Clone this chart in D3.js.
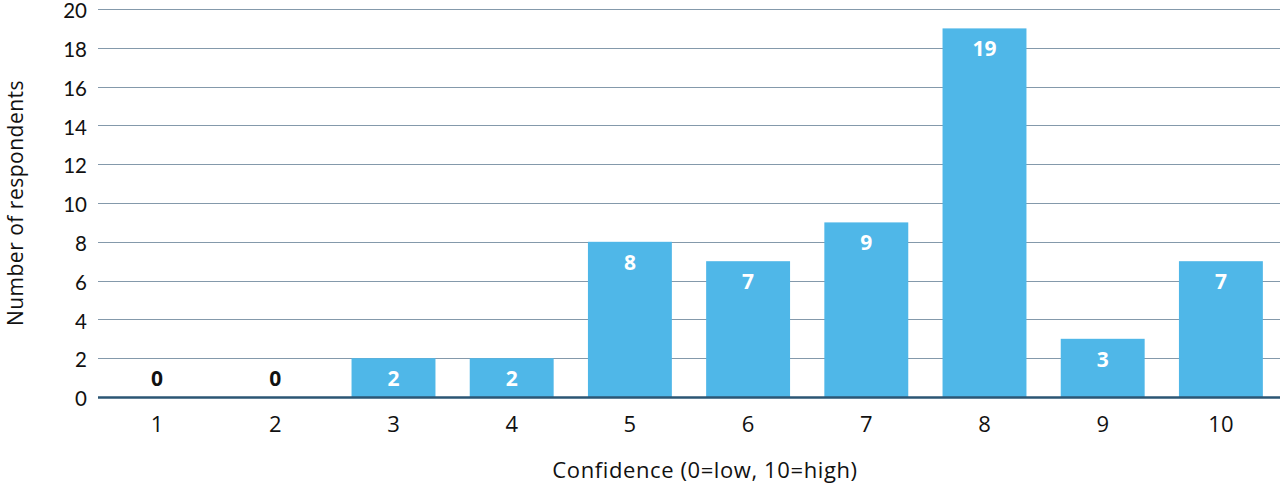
<!DOCTYPE html>
<html>
<head>
<meta charset="utf-8">
<script src="https://cdn.jsdelivr.net/npm/d3@7"></script>
<style>
  html, body { margin: 0; padding: 0; background: #fff; }
  svg { display: block; }
</style>
</head>
<body>
<svg id="chart" width="1280" height="488"></svg>
<script>
// Chart data
const categories = ['1', '2', '3', '4', '5', '6', '7', '8', '9', '10'];
const respondents = [0, 0, 2, 2, 8, 7, 9, 19, 3, 7];
const yTicks = [0, 2, 4, 6, 8, 10, 12, 14, 16, 18, 20];

const width = 1280;
const height = 488;
const margin = { top: 9, right: 0, bottom: 90, left: 98 };
const labelFont = '"Open Sans", sans-serif';

const svg = d3.select('#chart');

const x = d3.scaleBand()
  .domain(categories)
  .range([margin.left, width - margin.right])
  .paddingInner(0.29)
  .paddingOuter(0.145);

const y = d3.scaleLinear()
  .domain([0, 20])
  .range([height - margin.bottom - 1, margin.top]);

// Gridlines
svg.append('g')
  .attr('class', 'grid')
  .selectAll('line')
  .data(yTicks.filter(d => d > 0))
  .join('line')
  .attr('x1', margin.left)
  .attr('x2', width - margin.right)
  .attr('y1', d => Math.round(y(d)) + 0.5)
  .attr('y2', d => Math.round(y(d)) + 0.5)
  .attr('stroke', '#8499ab')
  .attr('stroke-width', 1.2);

// Y tick labels
svg.append('g')
  .selectAll('text')
  .data(yTicks)
  .join('text')
  .attr('x', 87)
  .attr('y', d => y(d))
  .attr('dy', '0.45em')
  .attr('text-anchor', 'end')
  .attr('font-family', 'Lato, "Open Sans", sans-serif')
  .attr('font-size', 20.5)
  .attr('fill', '#111')
  .text(d => d);

// Bars
svg.append('g')
  .selectAll('rect')
  .data(respondents)
  .join('rect')
  .attr('x', (d, i) => x(categories[i]))
  .attr('width', x.bandwidth())
  .attr('y', d => y(d))
  .attr('height', d => y(0) - y(d))
  .attr('fill', '#4fb7e8');

// Zero baseline
svg.append('line')
  .attr('x1', margin.left)
  .attr('x2', width - margin.right)
  .attr('y1', y(0) + 0.5)
  .attr('y2', y(0) + 0.5)
  .attr('stroke', '#2b5674')
  .attr('stroke-width', 2.4);

// Value labels
svg.append('g')
  .selectAll('text')
  .data(respondents)
  .join('text')
  .attr('x', (d, i) => x(categories[i]) + x.bandwidth() / 2)
  .attr('y', d => d === 0 ? y(0) - 11 : y(d) + 28)
  .attr('text-anchor', 'middle')
  .attr('font-family', labelFont)
  .attr('font-weight', 'bold')
  .attr('font-size', 21)
  .attr('fill', d => d === 0 ? '#111' : '#fff')
  .text(d => d);

// X tick labels
svg.append('g')
  .selectAll('text')
  .data(categories)
  .join('text')
  .attr('x', d => x(d) + x.bandwidth() / 2)
  .attr('y', 432)
  .attr('text-anchor', 'middle')
  .attr('font-family', labelFont)
  .attr('font-size', 22)
  .attr('fill', '#111')
  .text(d => d);

// Axis titles
svg.append('text')
  .attr('x', 705)
  .attr('y', 478)
  .attr('text-anchor', 'middle')
  .attr('font-family', labelFont)
  .attr('font-size', 22)
  .attr('letter-spacing', 0.6)
  .attr('fill', '#111')
  .text('Confidence (0=low, 10=high)');

svg.append('text')
  .attr('transform', `translate(23, ${(y(0) + y(20)) / 2}) rotate(-90)`)
  .attr('text-anchor', 'middle')
  .attr('font-family', labelFont)
  .attr('font-size', 21)
  .attr('letter-spacing', 0.5)
  .attr('fill', '#111')
  .text('Number of respondents');
</script>
</body>
</html>
